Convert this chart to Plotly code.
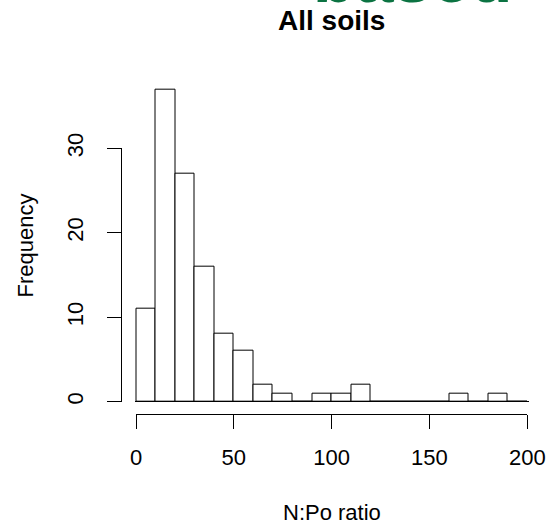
import plotly.graph_objects as go

# Data
bin_edges = list(range(0, 201, 10))
counts = [11, 37, 27, 16, 8, 6, 2, 1, 0, 1, 1, 2, 0, 0, 0, 0, 1, 0, 1, 0]
x_ticks = [0, 50, 100, 150, 200]
y_ticks = [0, 10, 20, 30]
title_text = "All soils"
x_label = "N:Po ratio"
y_label = "Frequency"
watermark = "based"

W, H = 546, 526
FONT = "Liberation Sans, Arial, Helvetica, sans-serif"

def px(xp):
    return xp / W

def py(yp):
    return (H - yp) / H

centers = [(a + b) / 2 for a, b in zip(bin_edges[:-1], bin_edges[1:])]
widths = [b - a for a, b in zip(bin_edges[:-1], bin_edges[1:])]

fig = go.Figure()
fig.add_trace(go.Bar(
    x=centers, y=counts, width=widths,
    marker=dict(color="white", line=dict(color="black", width=1)),
    showlegend=False, hoverinfo="x+y",
))
fig.add_trace(go.Scatter(x=[], y=[], xaxis="x", yaxis="y2", showlegend=False,
                         hoverinfo="skip"))
fig.add_trace(go.Scatter(x=[], y=[], xaxis="x2", yaxis="y", showlegend=False,
                         hoverinfo="skip"))

x_left, x_right = 136.0, 527.3
x_ppu = (x_right - x_left) / (bin_edges[-1] - bin_edges[0])
pad = 1.0 / x_ppu * 1.5
y_zero, y_30 = 401.7, 148.3
ppu = (y_zero - y_30) / 30.0
y_bottom_px = 414.0
ymin = -(y_bottom_px - y_zero) / ppu
ymax = 38.48
y_top_px = y_zero - ymax * ppu

common_ticks = dict(ticks="outside", ticklen=14, tickwidth=1, tickcolor="black",
                    showgrid=False, zeroline=False, automargin=False,
                    tickfont=dict(family=FONT, size=22))

fig.update_layout(
    width=W, height=H,
    margin=dict(l=0, r=0, t=0, b=0, autoexpand=False),
    paper_bgcolor="white", plot_bgcolor="rgba(0,0,0,0)",
    font=dict(family=FONT, size=22, color="black"),
    bargap=0,
    xaxis=dict(
        domain=[px(x_left - 1.5), px(x_right + 1.5)],
        range=[bin_edges[0] - pad, bin_edges[-1] + pad],
        anchor="y", showline=False, showticklabels=False, ticks="",
        showgrid=False, zeroline=False, automargin=False,
    ),
    xaxis2=dict(
        domain=[px(x_left), px(x_right)], range=[bin_edges[0], bin_edges[-1]],
        anchor="free", position=py(y_bottom_px), side="bottom",
        showline=True, linecolor="black", linewidth=1,
        tickvals=x_ticks, ticktext=[str(v) for v in x_ticks],
        ticklabelstandoff=10, **common_ticks,
    ),
    yaxis=dict(
        domain=[py(y_bottom_px), py(y_top_px)], range=[ymin, ymax],
        showticklabels=False, ticks="", showgrid=False, showline=False,
        zeroline=True, zerolinecolor="black", zerolinewidth=1, automargin=False,
    ),
    yaxis2=dict(
        domain=[py(y_zero), py(y_30)], range=[0, 30],
        anchor="free", position=px(120.7), side="left",
        showline=True, linecolor="black", linewidth=1,
        tickvals=y_ticks, ticktext=[str(v) for v in y_ticks],
        tickangle=-90, ticklabelstandoff=15, autoshift=False,
        **common_ticks,
    ),
    annotations=[
        dict(text=f"<b>{title_text}</b>", xref="paper", yref="paper",
             x=px((x_left + x_right) / 2), y=py(20.5), xanchor="center", yanchor="middle",
             showarrow=False, font=dict(family=FONT, size=28, color="black")),
        dict(text=x_label, xref="paper", yref="paper",
             x=px((x_left + x_right) / 2), y=py(512.5), xanchor="center", yanchor="middle",
             showarrow=False, font=dict(family=FONT, size=22, color="black")),
        dict(text=y_label, xref="paper", yref="paper",
             x=px(25), y=py(245.5), xanchor="center", yanchor="middle", textangle=-90,
             showarrow=False, font=dict(family=FONT, size=22, color="black")),
        dict(text=f"<b>{watermark}</b>", xref="paper", yref="paper",
             x=px(412), y=py(19.0), xanchor="center", yanchor="bottom",
             showarrow=False, font=dict(family=FONT, size=69, color="#0b7342")),
    ],
)

fig.write_html("out.html")
